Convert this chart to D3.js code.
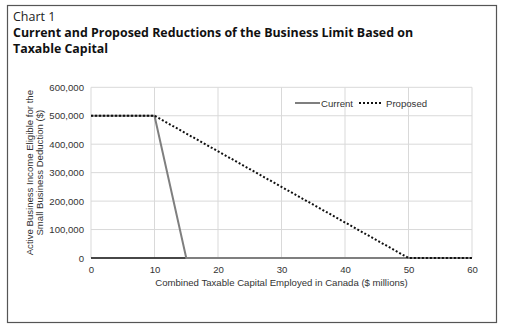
<!DOCTYPE html>
<html>
<head>
<meta charset="utf-8">
<script src="https://cdn.jsdelivr.net/npm/d3@7/dist/d3.min.js"></script>
<style>
  html, body { margin: 0; padding: 0; background: #fff; }
  svg { display: block; }
</style>
</head>
<body>
<svg id="chart" width="506" height="332"></svg>
<script>
// Business limit (in $) as a function of taxable capital ($ millions)
const currentX = [0, 10, 15, 60];
const currentY = [500000, 500000, 0, 0];
const proposedX = [0, 10, 50, 60];
const proposedY = [500000, 500000, 0, 0];
const xTicks = [0, 10, 20, 30, 40, 50, 60];
const yTicks = [0, 100000, 200000, 300000, 400000, 500000, 600000];
const seriesNames = ["Current", "Proposed"];

const svg = d3.select("#chart");
const font = "Liberation Sans, Arial, sans-serif";
const titleFont = "'Open Sans', 'Noto Sans', sans-serif";
const fs = 9.6;

// Frame
svg.append("rect")
  .attr("x", 7.5).attr("y", 5.5)
  .attr("width", 489).attr("height", 317)
  .attr("fill", "none").attr("stroke", "#555").attr("stroke-width", 1.2);

// Titles
svg.append("text").attr("x", 13).attr("y", 20.5)
  .attr("font-family", titleFont).attr("font-size", 12.5).attr("fill", "#222")
  .text("Chart 1");
svg.append("text").attr("x", 13).attr("y", 37)
  .attr("font-family", titleFont).attr("font-size", 12.4).attr("font-weight", "bold").attr("fill", "#111")
  .text("Current and Proposed Reductions of the Business Limit Based on");
svg.append("text").attr("x", 13).attr("y", 53)
  .attr("font-family", titleFont).attr("font-size", 12.4).attr("font-weight", "bold").attr("fill", "#111")
  .text("Taxable Capital");

const x = d3.scaleLinear().domain([0, 60]).range([91, 472]);
const y = d3.scaleLinear().domain([0, 600000]).range([258, 87.3]);

// Gridlines
const grid = svg.append("g").attr("stroke", "#d9d9d9").attr("stroke-width", 1);
grid.selectAll(".gx").data(xTicks).join("line")
  .attr("x1", d => x(d)).attr("x2", d => x(d))
  .attr("y1", y(0)).attr("y2", y(600000));
grid.selectAll(".gy").data(yTicks).join("line")
  .attr("x1", x(0)).attr("x2", x(60))
  .attr("y1", d => y(d)).attr("y2", d => y(d));

// Axes (labels only)
const fmt = d3.format(",");
const yAxis = svg.append("g").attr("transform", `translate(${x(0)},0)`)
  .call(d3.axisLeft(y).tickValues(yTicks).tickFormat(fmt).tickSize(0).tickPadding(7));
yAxis.select(".domain").remove();
yAxis.selectAll("text").attr("font-family", font).attr("font-size", fs).attr("fill", "#333");

const xAxis = svg.append("g").attr("transform", `translate(0,${y(0)})`)
  .call(d3.axisBottom(x).tickValues(xTicks).tickSize(0).tickPadding(8));
xAxis.select(".domain").remove();
xAxis.selectAll("text").attr("font-family", font).attr("font-size", fs).attr("fill", "#333");

// Horizontal axis line
svg.append("line")
  .attr("x1", x(0)).attr("x2", x(60)).attr("y1", y(0)).attr("y2", y(0))
  .attr("stroke", "#111").attr("stroke-width", 1.5);

// Axis titles
svg.append("text")
  .attr("x", x(30)).attr("y", 286)
  .attr("text-anchor", "middle")
  .attr("font-family", font).attr("font-size", fs).attr("fill", "#333")
  .text("Combined Taxable Capital Employed in Canada ($ millions)");

const yc = (y(0) + y(600000)) / 2;
const yTitle = svg.append("text")
  .attr("transform", `translate(32.5,${yc}) rotate(-90)`)
  .attr("text-anchor", "middle")
  .attr("font-family", font).attr("font-size", fs).attr("fill", "#333");
yTitle.append("tspan").attr("x", 0).attr("dy", 0).text("Active Business Income Eligible for the");
yTitle.append("tspan").attr("x", 0).attr("dy", 10.8).text("Small Business Deduction ($)");

// Series
const line = d3.line().x(d => x(d[0])).y(d => y(d[1]));
const currentPts = d3.zip(currentX, currentY);
const proposedPts = d3.zip(proposedX, proposedY);

svg.append("path").datum(currentPts).attr("d", line)
  .attr("fill", "none").attr("stroke", "#7f7f7f").attr("stroke-width", 2);
svg.append("path").datum(proposedPts).attr("d", line)
  .attr("fill", "none").attr("stroke", "#111").attr("stroke-width", 2)
  .attr("stroke-dasharray", "2,2");

// Legend
const lg = svg.append("g").attr("font-family", font).attr("font-size", fs).attr("fill", "#333");
lg.append("line").attr("x1", 295).attr("x2", 320).attr("y1", 103).attr("y2", 103)
  .attr("stroke", "#7f7f7f").attr("stroke-width", 2);
lg.append("text").attr("x", 321).attr("y", 106.5).text(seriesNames[0]);
lg.append("line").attr("x1", 359).attr("x2", 382).attr("y1", 103).attr("y2", 103)
  .attr("stroke", "#111").attr("stroke-width", 2).attr("stroke-dasharray", "2,2");
lg.append("text").attr("x", 386).attr("y", 106.5).text(seriesNames[1]);
</script>
</body>
</html>
